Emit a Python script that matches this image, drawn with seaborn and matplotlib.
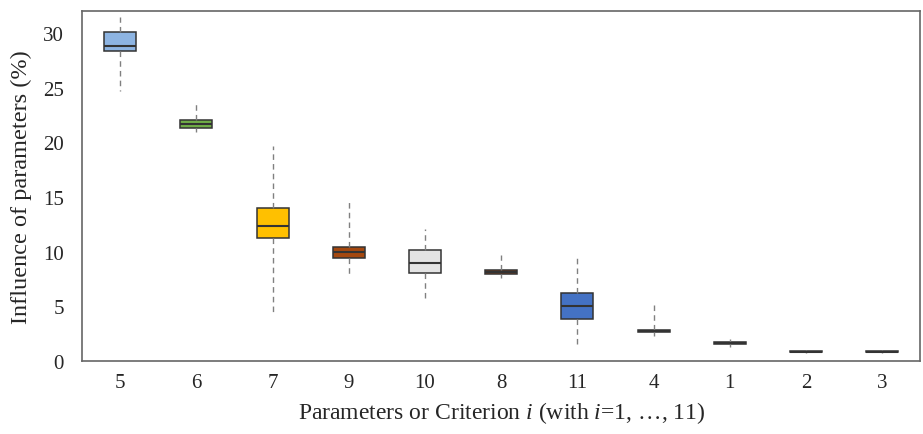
import matplotlib
matplotlib.use('Agg')
import matplotlib.pyplot as plt
import seaborn as sns
import pandas as pd

# order of criteria along x, and five-number summaries
criteria = ['5', '6', '7', '9', '10', '8', '11', '4', '1', '2', '3']
whisker_low = [24.7, 20.9, 4.3, 7.8, 5.65, 7.57, 1.16, 2.25, 1.25, 0.72, 0.72]
q1 = [28.35, 21.27, 11.21, 9.42, 8.02, 7.93, 3.83, 2.62, 1.58, 0.78, 0.78]
median = [28.83, 21.7, 12.33, 9.94, 8.96, 8.14, 5.04, 2.72, 1.65, 0.85, 0.85]
q3 = [30.05, 22.03, 14.01, 10.46, 10.12, 8.36, 6.17, 2.82, 1.72, 0.92, 0.92]
whisker_high = [31.5, 23.7, 19.63, 14.68, 12.03, 9.66, 9.66, 5.26, 2.0, 0.97, 0.97]

colors = ['#8DB4E2', '#70AD47', '#FFC000', '#A5480F', '#E3E3E3', '#A5480F',
          '#4472C4', '#7F7F7F', '#7F7F7F', '#404040', '#404040']

# long table: each criterion contributes its five summary values
rows = []
for i, c in enumerate(criteria):
    for v in [whisker_low[i], q1[i], median[i], q3[i], whisker_high[i]]:
        rows.append({'crit': c, 'val': v})
df = pd.DataFrame(rows)

sns.set_style('white')
plt.rcParams['font.family'] = ['Liberation Serif', 'DejaVu Serif']
plt.rcParams['mathtext.fontset'] = 'custom'
plt.rcParams['mathtext.rm'] = 'Liberation Serif'
plt.rcParams['mathtext.it'] = 'Liberation Serif:italic'

fig, ax = plt.subplots(figsize=(9.23, 4.35), dpi=100)
sns.boxplot(data=df, x='crit', y='val', hue='crit', order=criteria,
            palette=dict(zip(criteria, colors)), legend=False, saturation=1,
            whis=(0, 100), width=0.42, showcaps=False, fliersize=0,
            linewidth=1.1, linecolor='#333333',
            whiskerprops={'linestyle': (0, (4, 3)), 'color': '#808080', 'linewidth': 1.0},
            medianprops={'color': '#333333', 'linewidth': 1.5}, ax=ax)

ax.set_ylim(0, 32)
ax.set_yticks([0, 5, 10, 15, 20, 25, 30])
ax.tick_params(axis='x', labelsize=15, length=0, pad=9)
ax.tick_params(axis='y', labelsize=15, length=0, pad=13)
ax.set_xlabel('Parameters or Criterion $\\mathit{i}$ (with $\\mathit{i}$=1, \u2026, 11)', fontsize=17, labelpad=5)
ax.set_ylabel('Influence of parameters (%)', fontsize=17.5, labelpad=8)
for s in ax.spines.values():
    s.set_color('#666666')
    s.set_linewidth(1.2)

fig.subplots_adjust(left=0.089, right=0.997, top=0.972, bottom=0.168)
fig.savefig('out.png', dpi=100)
